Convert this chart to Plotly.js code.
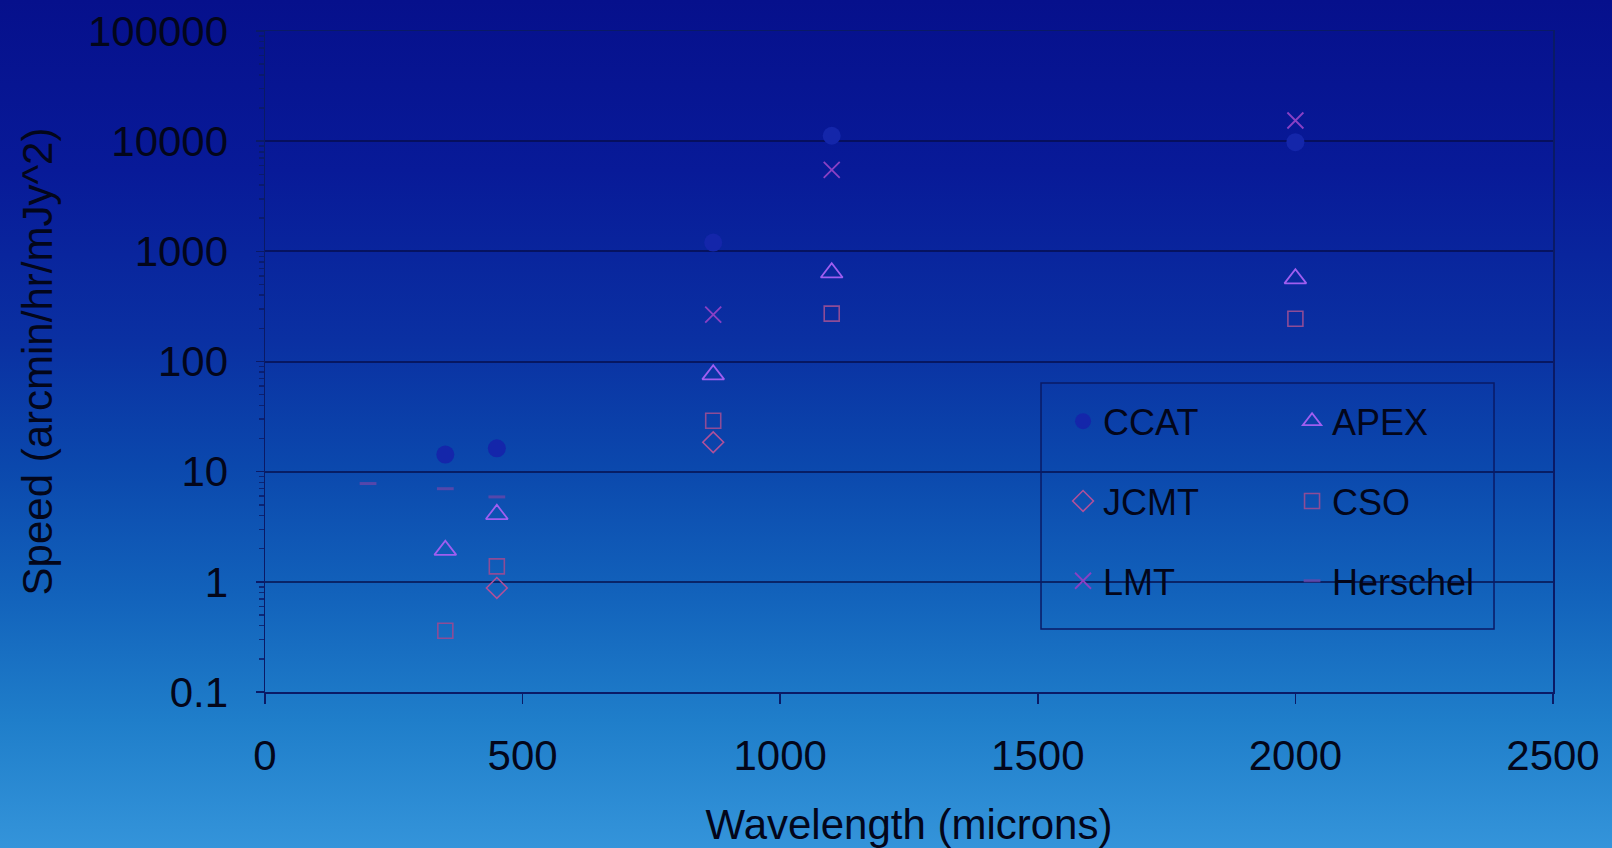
<!DOCTYPE html>
<html>
<head>
<meta charset="utf-8">
<script src="https://cdn.plot.ly/plotly-3.0.1.min.js"></script>
<style>
  html, body { margin: 0; padding: 0; }
  body {
    width: 1612px; height: 848px; overflow: hidden;
    background: linear-gradient(to bottom, #06108c 0%, #081a98 20%, #0a30a2 40%, #0b48ad 55%, #1262bb 70%, #1f7eca 85%, #3494da 100%);
  }
  #chart { width: 1612px; height: 848px; }
</style>
</head>
<body>
<div id="chart"></div>
<script>
// ---- data ----
const ccatX = [350, 450, 870, 1100, 2000];
const ccatY = [14.3, 16.3, 1200, 11200, 9800];

const apexX = [350, 450, 870, 1100, 2000];
const apexY = [1.94, 4.1, 76, 640, 565];

const jcmtX = [450, 870];
const jcmtY = [0.88, 18.5];

const csoX = [350, 450, 870, 1100, 2000];
const csoY = [0.36, 1.38, 29, 272, 244];

const lmtX = [870, 1100, 2000];
const lmtY = [266, 5500, 15400];

const herschelX = [200, 350, 450];
const herschelY = [7.8, 7.0, 5.9];

const yTickVals = [0.1, 1, 10, 100, 1000, 10000, 100000];
const yTickText = ['0.1', '1', '10', '100', '1000', '10000', '100000'];
const xTickVals = [0, 500, 1000, 1500, 2000, 2500];

const FONT = 'Liberation Sans, Arial, Helvetica, sans-serif';
const TXT = '#03061a';
const AXFS = 42;

const traces = [
  {name: 'CCAT', x: ccatX, y: ccatY, legend: 'legend', legendgroup: 'g1',
   marker: {symbol: 'circle', size: 18, color: '#1426aa', line: {width: 0}}},
  {name: 'JCMT', x: jcmtX, y: jcmtY, legend: 'legend', legendgroup: 'g2',
   marker: {symbol: 'diamond-open', size: 16, color: '#b0509a', line: {width: 1.6}}},
  {name: 'LMT', x: lmtX, y: lmtY, legend: 'legend', legendgroup: 'g3',
   marker: {symbol: 'x-thin-open', size: 16, color: '#8a40c4', line: {width: 1.8}}},
  {name: 'APEX', x: apexX, y: apexY, legend: 'legend2', legendgroup: 'g4',
   marker: {symbol: 'triangle-up-open', size: 19, color: '#a05ef0', line: {width: 1.8}}},
  {name: 'CSO', x: csoX, y: csoY, legend: 'legend2', legendgroup: 'g5',
   marker: {symbol: 'square-open', size: 15, color: '#8e4c96', line: {width: 1.6}}},
  {name: 'Herschel', x: herschelX, y: herschelY, legend: 'legend2', legendgroup: 'g6',
   marker: {symbol: 'line-ew-open', size: 12, color: 'rgba(110,70,170,0.75)', line: {width: 3}}}
].map(t => Object.assign({type: 'scatter', mode: 'markers', hoverinfo: 'x+y+name'}, t));

const legendCommon = {
  bgcolor: 'rgba(0,0,0,0)', borderwidth: 0,
  font: {family: FONT, size: 36, color: TXT},
  orientation: 'v', traceorder: 'grouped', tracegroupgap: 30,
  xanchor: 'left', yanchor: 'top', itemsizing: 'trace'
};

const layout = {
  width: 1612, height: 848,
  margin: {l: 265, r: 59, t: 31, b: 156},
  paper_bgcolor: 'rgba(0,0,0,0)',
  plot_bgcolor: 'rgba(0,0,0,0)',
  font: {family: FONT, size: AXFS, color: TXT},
  showlegend: true,
  legend: Object.assign({}, legendCommon, {x: 0.6196, y: 0.455}),
  legend2: Object.assign({}, legendCommon, {x: 0.7974, y: 0.455}),
  xaxis: {
    range: [0, 2500], tickvals: xTickVals, ticks: 'outside', ticklen: 10, tickwidth: 1.5,
    tickcolor: '#0a1a66', showgrid: false, zeroline: false,
    showline: true, linecolor: '#0a1a66', linewidth: 1.5, mirror: true,
    tickfont: {family: FONT, size: AXFS, color: TXT}, ticklabelstandoff: 16,
    title: {text: 'Wavelength (microns)', font: {family: FONT, size: AXFS, color: TXT}, standoff: 34},
    automargin: false
  },
  yaxis: {
    type: 'log', range: [-1, 5], tickvals: yTickVals, ticktext: yTickText,
    ticks: 'outside', ticklen: 8, tickwidth: 1.5, tickcolor: '#0a1a66',
    showgrid: true, gridcolor: 'rgba(6,12,70,0.7)', gridwidth: 2,
    zeroline: false, showline: true, linecolor: '#0a1a66', linewidth: 1.5, mirror: true,
    minor: {ticks: 'outside', ticklen: 5, tickcolor: 'rgba(10,26,102,0.8)', dtick: 'D1', showgrid: false},
    tickfont: {family: FONT, size: AXFS, color: TXT}, ticklabelstandoff: 19,
    title: {text: 'Speed (arcmin/hr/mJy^2)', font: {family: FONT, size: AXFS, color: TXT}, standoff: 22},
    automargin: false
  },
  shapes: [{
    type: 'rect', xref: 'paper', yref: 'paper',
    x0: 0.6025, x1: 0.9542, y0: 0.0953, y1: 0.4675,
    line: {color: '#0a1a66', width: 1.5}, fillcolor: 'rgba(0,0,0,0)', layer: 'above'
  }]
};

Plotly.newPlot('chart', traces, layout, {displayModeBar: false, staticPlot: true});
</script>
</body>
</html>
